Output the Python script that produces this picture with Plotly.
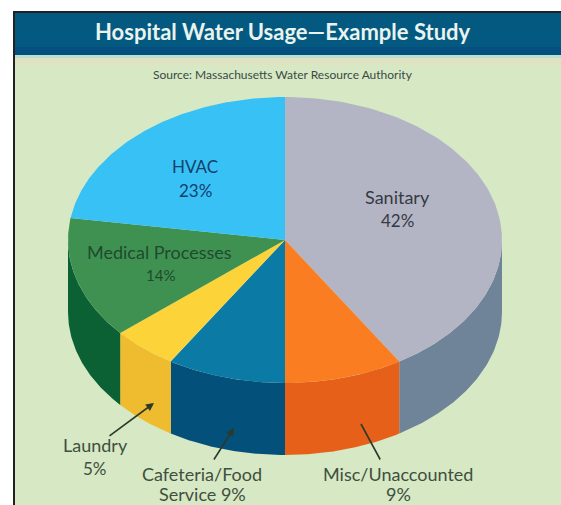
import numpy as np
import plotly.graph_objects as go

categories = ["Sanitary", "Misc/Unaccounted", "Cafeteria/Food Service", "Laundry", "Medical Processes", "HVAC"]
values = [42, 9, 9, 5, 14, 23]
top_colors = ["#b4b5c4", "#fb7d22", "#0b7aa5", "#fdd33a", "#3f9152", "#38c1f4"]
side_colors = ["#6f8499", "#e7601a", "#03507a", "#efbc30", "#0c6134", "#38c1f4"]

W, H = 561, 505
CX, CY, RX, RY, DEPTH = 285, 240, 217, 143, 72
PANEL = "#d6e8c4"
HEADER = "#03597f"

fig = go.Figure()
total = sum(values)
cum = np.cumsum([0] + values) / total * 2 * np.pi


def ell(t, dy=0):
    return CX + RX * np.sin(t), CY - RY * np.cos(t) + dy


# side walls (front half only)
for i, name in enumerate(categories):
    a, b = max(cum[i], np.pi / 2), min(cum[i + 1], 3 * np.pi / 2)
    if b <= a:
        continue
    t = np.linspace(a, b, 80)
    x1, y1 = ell(t)
    x2, y2 = ell(t[::-1], DEPTH)
    fig.add_trace(go.Scatter(x=np.r_[x1, x2], y=np.r_[y1, y2], mode="lines", fill="toself",
                             fillcolor=side_colors[i], line=dict(width=0), hoverinfo="skip", showlegend=False))
# top face
for i, name in enumerate(categories):
    t = np.linspace(cum[i], cum[i + 1], 120)
    x, y = ell(t)
    fig.add_trace(go.Scatter(x=np.r_[CX, x, CX], y=np.r_[CY, y, CY], mode="lines", fill="toself",
                             fillcolor=top_colors[i], line=dict(width=0), name=name, showlegend=False))

fig.update_xaxes(range=[0, W], visible=False, fixedrange=True)
fig.update_yaxes(range=[H, 0], visible=False, fixedrange=True)


def rect(x0, y0, x1, y1, c):
    return dict(type="rect", x0=x0, y0=y0, x1=x1, y1=y1, fillcolor=c, line_width=0, layer="below")


shapes = [
    rect(13, 11, W, H, "#222222"),
    rect(15, 13, W, H, PANEL),
    rect(15, 13, W, 55, HEADER),
    rect(15, 47, W, 55, "#054e80"),
    rect(15, 55, W, 58, "#b9e0cc"),
    rect(15, 58, W, 65, "#dfe3c4"),
]


def txt(x, y, s, size, color, bold=False):
    return dict(x=x, y=y, text=f"<b>{s}</b>" if bold else s, showarrow=False, xanchor="center", yanchor="middle",
                font=dict(size=size, color=color, family="Lato"))


def arrow(x, y, ax, ay, head=2):
    return dict(x=x, y=y, ax=ax, ay=ay, xref="x", yref="y", axref="x", ayref="y", text="", showarrow=True,
                arrowhead=head, arrowsize=1, arrowwidth=1.6, arrowcolor="#2c3a2c")


ann = [
    txt(283, 31, "Hospital Water Usage—Example Study", 22, "#e9f3f0", True),
    txt(283, 74, "Source: Massachusetts Water Resource Authority", 12, "#3c4a44"),
    txt(195, 166, "HVAC", 17, "#123f6e"),
    txt(195, 190, f"{values[5]}%", 17, "#123f6e"),
    txt(159, 252, "Medical Processes", 18, "#1f4a2e"),
    txt(160, 275, f"{values[4]}%", 15, "#1f4a2e"),
    txt(397, 197, "Sanitary", 18, "#343a44"),
    txt(397, 220, f"{values[0]}%", 17, "#343a44"),
    txt(95, 445, "Laundry", 18, "#3f4f40"),
    txt(95, 468, f"{values[3]}%", 17, "#3f4f40"),
    txt(202, 474, "Cafeteria/Food", 18, "#3f4f40"),
    txt(202, 494, f"Service {values[2]}%", 18, "#3f4f40"),
    txt(398, 474, "Misc/Unaccounted", 18, "#3f4f40"),
    txt(398, 494, f"{values[1]}%", 18, "#3f4f40"),
    arrow(154, 403, 108, 437),
    arrow(234, 428, 213, 461),
    arrow(361, 424, 381, 461, head=0),
]

fig.update_layout(width=W, height=H, margin=dict(l=0, r=0, t=0, b=0), paper_bgcolor="white",
                  plot_bgcolor="white", shapes=shapes, annotations=ann, showlegend=False)
fig.write_html("out.html", config={"displayModeBar": False},
               post_script="document.body.style.margin='0';document.body.style.overflow='hidden';")
